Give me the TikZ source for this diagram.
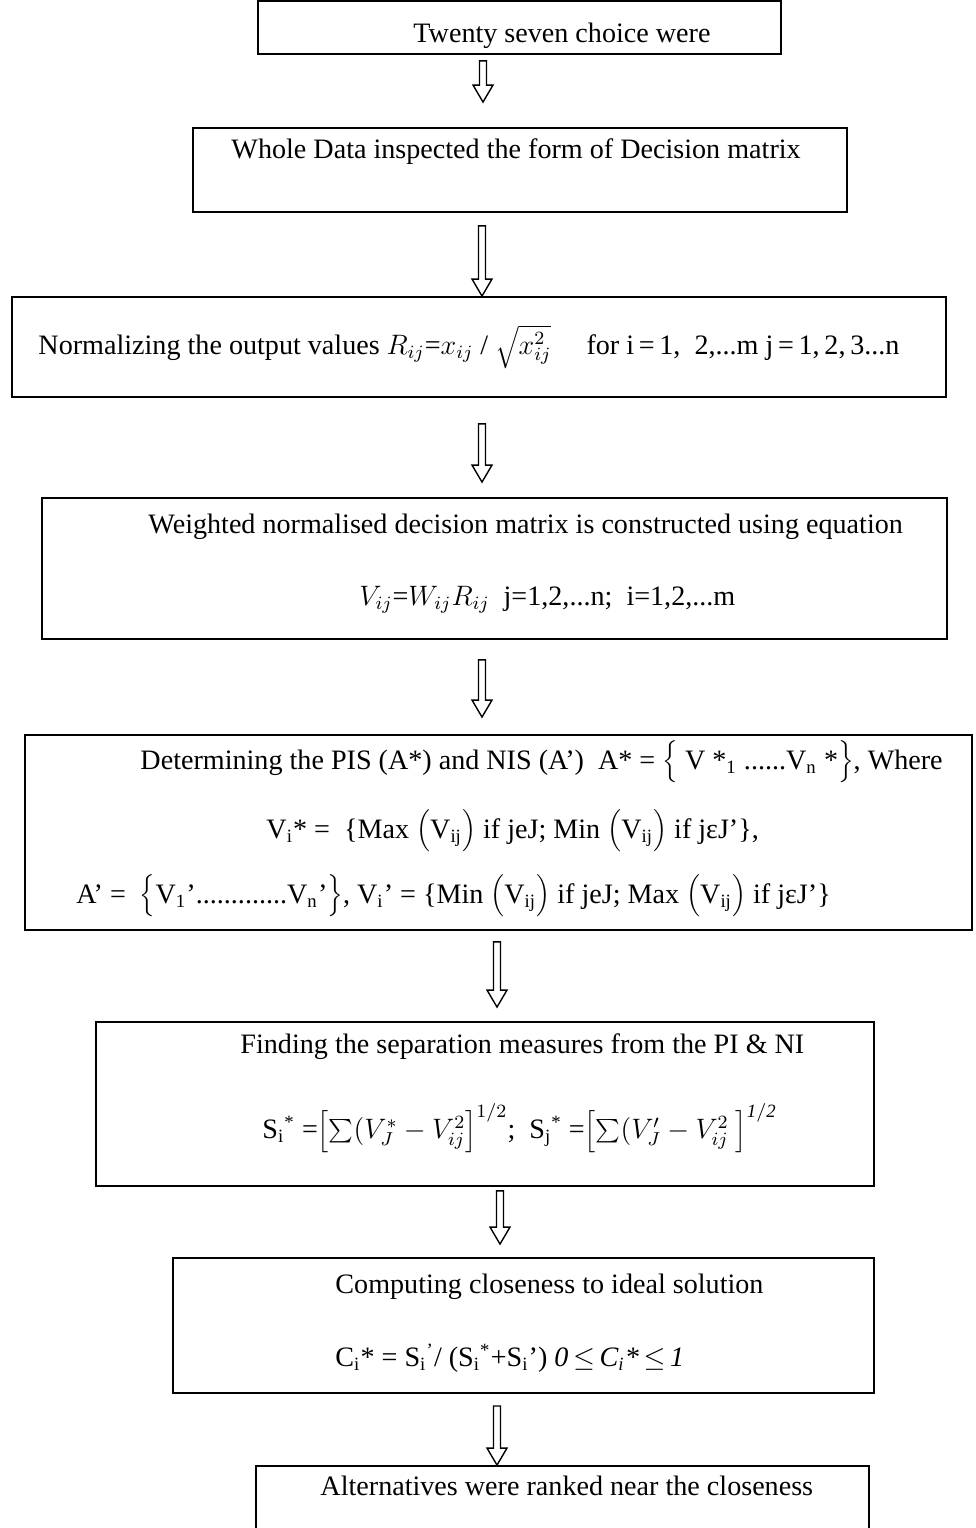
\documentclass[tikz,border=0pt]{standalone}
\usepackage{fontspec}
\setmainfont{Liberation Serif}
\usepackage{tikz}
\usetikzlibrary{calc,fit}
\tikzset{
  stepbox/.style={draw=black, line width=0.8pt, inner sep=0pt},
  steptxt/.style={anchor=west, inner sep=0pt, font=\fontsize{12}{14}\selectfont},
  arrline/.style={draw=black, line width=0.6pt, fill=white, line join=miter},
}
% hollow down arrow: #1 top of shaft, #2 tip (same x)
\newcommand\blockarr[2]{%
  \draw[arrline] ($(#1)+(-3.5,0)$) -- ($(#2)+(-3.5,-17)$) -- ($(#2)+(-10,-17)$)
    -- (#2) -- ($(#2)+(10,-17)$) -- ($(#2)+(3.5,-17)$) -- ($(#1)+(3.5,0)$) -- cycle;
}

\begin{document}
\begin{tikzpicture}[x=0.015cm,y=-0.015cm]
  \useasboundingbox (0,0) rectangle (975,1528);
  % boxes
  \node[stepbox, fit={(258,1) (781,54)}] (b1) {};
  \node[stepbox, fit={(193,128) (847,212)}] (b2) {};
  \node[stepbox, fit={(12,297) (946,397)}] (b3) {};
  \node[stepbox, fit={(42,498) (947,639)}] (b4) {};
  \node[stepbox, fit={(25,735) (972,930)}] (b5) {};
  \node[stepbox, fit={(96,1022) (874,1186)}] (b6) {};
  \node[stepbox, fit={(173,1258) (874,1393)}] (b7) {};
  \node[stepbox, fit={(256,1466) (869,1545)}] (b8) {};

  % texts
  \node[steptxt] (t1) at (413,36) {Twenty seven choice were};
  \node[steptxt] (t2) at (231,152) {Whole Data inspected the form of Decision matrix};
  \node[steptxt] (t3) at (38,347) {Normalizing the output values $R_{ij}$=$x_{ij}$ / $\sqrt{x_{ij}^2}$\quad\ for i\,=\,1,\ \ 2,...m j\,=\,1,\,2,\,3...n};
  \node[steptxt] (t4a) at (148,527) {Weighted normalised decision matrix is constructed using equation};
  \node[steptxt] (t4b) at (359,600) {$V_{ij}$=$W_{ij}R_{ij}$\ \ j=1,2,...n;\ \ i=1,2,...m};
  \node[steptxt] (t5a) at (140,762) {Determining the PIS (A*) and NIS (A’)\ \ A* = $\Big\{$ V *\textsubscript{1} ......V\textsubscript{n} *$\Big\}$, Where};
  \node[steptxt] (t5b) at (266,831) {V\textsubscript{i}* =\ \ \{Max\ $\Big($V\textsubscript{ij}$\Big)$ if jeJ; Min\ $\Big($V\textsubscript{ij}$\Big)$ if jεJ’\},};
  \node[steptxt] (t5c) at (76,896) {A’ =\ \ $\Big\{$V\textsubscript{1}’.............V\textsubscript{n}’$\Big\}$, V\textsubscript{i}’ = \{Min\ $\Big($V\textsubscript{ij}$\Big)$ if jeJ; Max\ $\Big($V\textsubscript{ij}$\Big)$ if jεJ’\}};
  \node[steptxt] (t6a) at (240,1047) {Finding the separation measures from the PI \& NI};
  \node[steptxt] (t6b) at (262,1128) {S\textsubscript{i}\textsuperscript{*} =$\Big[{\textstyle\sum}(V_J^*-V_{ij}^2\Big]^{1/2}$;\ \ S\textsubscript{j}\textsuperscript{*} =$\Big[{\textstyle\sum}(V_J'-V_{ij}^2\ \Big]^{\mathit{1/2}}$};
  \node[steptxt] (t7a) at (335,1287) {Computing closeness to ideal solution};
  \node[steptxt] (t7b) at (335,1358) {C\textsubscript{i}*\ =\ S\textsubscript{i}\textsuperscript{’}/\ (S\textsubscript{i}\textsuperscript{*}+S\textsubscript{i}’)\ \textit{0$\,\leq\,$C\textsubscript{i}*$\,\leq\,$1}};
  \node[steptxt] (t8) at (320,1486) {Alternatives were ranked near the closeness};

  % arrows between boxes
  \foreach \i/\j/\x/\gt/\gb in {1/2/483/6/25, 2/3/482/13/0, 3/4/482/26/15,
      4/5/482/20/17, 5/6/497/11/14, 6/7/500/4/13, 7/8/497/12/0} {
    \coordinate (x\i) at (\x,0);
    \coordinate (s\i) at ($(b\i.south -| x\i)+(0,\gt)$);
    \coordinate (e\i) at ($(b\j.north -| x\i)+(0,-\gb)$);
    \blockarr{s\i}{e\i}
  }
\end{tikzpicture}
\end{document}
